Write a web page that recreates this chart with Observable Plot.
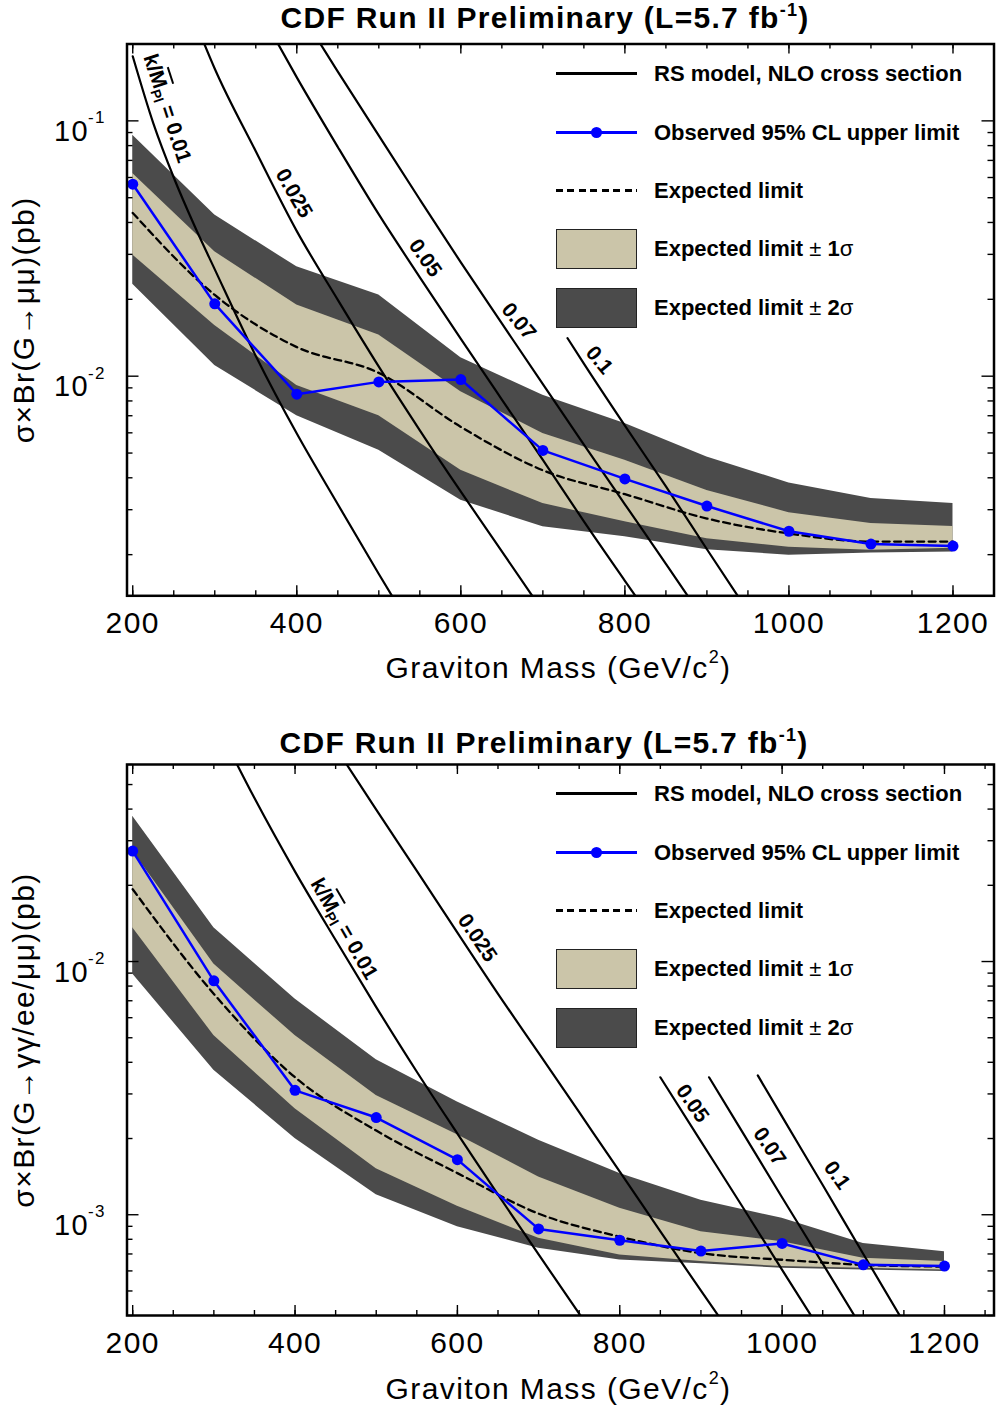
<!DOCTYPE html>
<html><head><meta charset="utf-8">
<script src="https://cdn.jsdelivr.net/npm/d3@7"></script>
<script src="https://cdn.jsdelivr.net/npm/@observablehq/plot@0.6"></script>
<style>
body{margin:0;background:#fff}
#fig{position:relative;width:996px;height:1412px;font-family:"Liberation Sans",Arial,Helvetica,sans-serif;color:#000;overflow:hidden;background:#fff}
.panel{position:absolute;left:0;width:996px}
.panel svg{position:absolute;left:0;top:0}
.title{position:absolute;white-space:nowrap;font-weight:bold;font-size:30px;line-height:30px;letter-spacing:1.3px;transform:translateX(-50%)}
.xtitle{position:absolute;white-space:nowrap;font-size:30px;line-height:30px;letter-spacing:1.4px;transform:translateX(-50%)}
.sup{position:relative;font-size:18px;line-height:0}
.legtxt{position:absolute;left:654px;font-weight:bold;font-size:22px;line-height:22px;white-space:nowrap}
.legtxt .n{font-weight:normal}
.legsym{position:absolute;left:556px;width:81px;box-sizing:border-box}
.clabel{position:absolute;font-weight:bold;font-size:21px;line-height:21px;white-space:nowrap;left:0;top:0}
.clabel .ov{text-decoration:overline}
.clabel sub{font-size:14px;line-height:0;vertical-align:-4px}
</style></head>
<body>
<div id="fig"></div>
<script>
// ---------------- data ----------------
const mass = [200, 300, 400, 500, 600, 700, 800, 900, 1000, 1100, 1200];

// G -> mu mu
const obsMuMu = [0.0565, 0.0192, 0.0085, 0.0095, 0.0097, 0.00512, 0.00396, 0.0031, 0.00247, 0.0022, 0.00216];
const expMuMu = [0.0436, 0.0208, 0.0130, 0.0103, 0.00633, 0.00428, 0.00345, 0.00277, 0.00242, 0.00225, 0.00225];
const hi1MuMu = [0.0622, 0.0307, 0.0190, 0.0145, 0.0087, 0.00597, 0.00469, 0.00357, 0.00292, 0.00265, 0.00258];
const lo1MuMu = [0.0298, 0.0158, 0.0092, 0.0070, 0.00428, 0.00317, 0.00269, 0.00231, 0.00214, 0.00208, 0.00212];
const hi2MuMu = [0.0879, 0.0428, 0.0268, 0.0208, 0.0118, 0.00843, 0.00653, 0.00483, 0.00382, 0.00332, 0.00317];
const lo2MuMu = [0.0229, 0.0110, 0.0070, 0.00513, 0.00327, 0.00257, 0.00235, 0.00209, 0.00199, 0.00203, 0.00205];

// G -> gamma gamma / ee / mu mu
const obsComb = [0.0273, 0.00839, 0.0031, 0.00242, 0.00165, 0.000879, 0.000793, 0.000719, 0.00077, 0.000634, 0.000627];
const expComb = [0.0193, 0.00745, 0.00349, 0.00215, 0.00146, 0.00101, 0.000819, 0.000705, 0.000664, 0.000634, 0.000624];
const hi1Comb = [0.0273, 0.00977, 0.0051, 0.00296, 0.00207, 0.00141, 0.00106, 0.000857, 0.000783, 0.000673, 0.000653];
const lo1Comb = [0.0136, 0.0051, 0.00262, 0.00152, 0.00108, 0.000807, 0.000694, 0.000653, 0.000624, 0.000615, 0.000605];
const hi2Comb = [0.0375, 0.0136, 0.00711, 0.00409, 0.00279, 0.00197, 0.001455, 0.00114, 0.000968, 0.00077, 0.000715];
const lo2Comb = [0.00892, 0.00372, 0.0020, 0.0012, 0.000897, 0.000738, 0.000663, 0.00064, 0.000615, 0.000605, 0.000597];

// RS model NLO cross sections [mass, sigma x Br] for k/MPl values
const kValues = ["0.01", "0.025", "0.05", "0.07", "0.1"];
const rsMuMu001 = [[200,0.179],[225,0.098],[250,0.060],[275,0.039],[300,0.0262],[350,0.0120],[400,0.00596],[450,0.00315],[500,0.00168],[550,0.00091]];
const rsMuMu0025 = [[275,0.25],[300,0.16],[350,0.076],[400,0.037],[450,0.0199],[500,0.0109],[550,0.00614],[600,0.00353],[650,0.00206],[700,0.0012]];
const rsMuMu005 = [[370,0.22],[400,0.148],[450,0.079],[500,0.043],[550,0.0244],[600,0.0140],[650,0.0081],[700,0.0047],[750,0.0027],[800,0.00158],[850,0.00093]];
const rsMuMu007 = [[420,0.222],[450,0.156],[500,0.0875],[550,0.0492],[600,0.0279],[650,0.0161],[700,0.0093],[750,0.0054],[800,0.00315],[850,0.00184],[900,0.00107]];
const rsMuMu01 = [[730,0.0141],[750,0.0112],[800,0.0064],[850,0.0037],[900,0.0021],[950,0.0012]];

const rsComb001 = [[300,0.0912],[350,0.0442],[400,0.02265],[450,0.01216],[500,0.00661],[550,0.00367],[600,0.00209],[650,0.0012],[700,0.000697],[750,0.000407],[800,0.00024]];
const rsComb0025 = [[450,0.07],[500,0.0398],[550,0.0228],[600,0.0130],[650,0.00745],[700,0.00436],[750,0.00254],[800,0.00148],[850,0.00086],[900,0.000501],[950,0.000295]];
const rsComb005 = [[850,0.00349],[900,0.00195],[950,0.00109],[1000,0.000606],[1050,0.000338]];
const rsComb007 = [[910,0.00349],[950,0.00215],[1000,0.00117],[1050,0.000641],[1100,0.00035]];
const rsComb01 = [[970,0.00355],[1000,0.00244],[1050,0.00131],[1100,0.0007],[1150,0.000375]];

// curve label anchors [mass, value]
const labelAtMuMu = [[243.5,0.1117],[398,0.052],[558,0.029],[672,0.0164],[770,0.01155]];
const labelAtComb = [[462,0.01345],[626,0.0124],[891,0.00275],[986,0.00186],[1069,0.00143]];

// ticks
const xTicks = [200, 400, 600, 800, 1000, 1200];
const xMinorTicks = [200,250,300,350,400,450,500,550,600,650,700,750,800,850,900,950,1000,1050,1100,1150,1200,1250];
const yTicksMuMu = [0.01, 0.1], yExpMuMu = ["-2", "-1"];
const yTicksComb = [0.001, 0.01], yExpComb = ["-3", "-2"];

const legendLabels = [
  "RS model, NLO cross section",
  "Observed 95% CL upper limit",
  "Expected limit",
  'Expected limit <span class="n">±</span> 1<span class="n">σ</span>',
  'Expected limit <span class="n">±</span> 2<span class="n">σ</span>'
];

// ---------------- drawing ----------------
const DARK = "#4b4b4b", TAN = "#cbc5a9", BLUE = "#0000ff";
const fig = document.getElementById("fig");

function makePanel(cfg) {
  const W = 996, ML = 126.5, MR = 2.5;
  const FH = cfg.height - cfg.marginTop - cfg.marginBottom;
  const FW = W - ML - MR;
  const rows = mass.map((m, i) => ({m, obs: cfg.obs[i], exp: cfg.exp[i], lo1: cfg.lo1[i], hi1: cfg.hi1[i], lo2: cfg.lo2[i], hi2: cfg.hi2[i]}));
  const yMinor = [];
  for (const dec of cfg.decades) for (let k = 2; k <= 9; k++) {
    const v = +(k * dec).toPrecision(3);
    if (v >= cfg.yDomain[0] && v <= cfg.yDomain[1]) yMinor.push(v);
  }
  const tk = {stroke: "black", strokeWidth: 1.4};
  const chart = Plot.plot({
    width: W, height: cfg.height,
    marginTop: cfg.marginTop, marginBottom: cfg.marginBottom, marginLeft: ML, marginRight: MR,
    style: {fontFamily: '"Liberation Sans", Arial, Helvetica, sans-serif', letterSpacing: "1.4px", overflow: "visible", background: "transparent"},
    x: {domain: cfg.xDomain, axis: null},
    y: {type: "log", domain: cfg.yDomain, axis: null},
    marks: [
      Plot.areaY(rows, {x: "m", y1: "lo2", y2: "hi2", fill: DARK}),
      Plot.areaY(rows, {x: "m", y1: "lo1", y2: "hi1", fill: TAN}),
      Plot.line(rows, {x: "m", y: "exp", stroke: "black", strokeWidth: 2.3, strokeDasharray: "7,4.5", curve: "monotone-x"}),
      ...cfg.curves.map(c => Plot.line(c, {x: d => d[0], y: d => d[1], stroke: "black", strokeWidth: 2.2, curve: "monotone-x", clip: true})),
      Plot.line(rows, {x: "m", y: "obs", stroke: BLUE, strokeWidth: 2.5}),
      Plot.dot(rows, {x: "m", y: "obs", r: 5.5, fill: BLUE}),
      Plot.tickX(xTicks, {x: d => d, ...tk, insetTop: FH - 10}),
      Plot.tickX(xTicks, {x: d => d, ...tk, insetBottom: FH - 10}),
      Plot.tickX(xMinorTicks, {x: d => d, ...tk, insetTop: FH - 5}),
      Plot.tickX(xMinorTicks, {x: d => d, ...tk, insetBottom: FH - 5}),
      Plot.tickY(cfg.yTicks, {y: d => d, ...tk, insetRight: FW - 12}),
      Plot.tickY(cfg.yTicks, {y: d => d, ...tk, insetLeft: FW - 12}),
      Plot.tickY(yMinor, {y: d => d, ...tk, insetRight: FW - 6}),
      Plot.tickY(yMinor, {y: d => d, ...tk, insetLeft: FW - 6}),
      Plot.frame({stroke: "black", strokeWidth: 2.5}),
      Plot.text(xTicks, {x: d => d, text: d => String(d), frameAnchor: "bottom", lineAnchor: "middle", textAnchor: "middle", dy: 27.5, fontSize: 30}),
      Plot.text(cfg.yTicks, {y: d => d, text: () => "10", frameAnchor: "left", lineAnchor: "middle", textAnchor: "end", dx: -38, dy: 11, fontSize: 29}),
      Plot.text(cfg.yTicks.map((v, i) => ({v, e: cfg.yExp[i]})), {y: "v", text: "e", frameAnchor: "left", lineAnchor: "middle", textAnchor: "start", dx: -39, dy: -3, fontSize: 17}),
      Plot.text([cfg.ytitle], {text: d => d, frameAnchor: "left", textAnchor: "middle", lineAnchor: "middle", dx: -103, rotate: -90, fontSize: 30})
    ]
  });

  const p = document.createElement("div");
  p.className = "panel";
  p.style.top = cfg.top + "px";
  p.style.height = cfg.height + "px";
  p.appendChild(chart);

  const t = document.createElement("div");
  t.className = "title";
  t.style.left = cfg.titleX + "px";
  t.style.top = (cfg.titleBaseline - 25.4) + "px";
  t.innerHTML = 'CDF Run II Preliminary (L=5.7 fb<span class="sup" style="top:-12px">-1</span>)';
  p.appendChild(t);

  const xt = document.createElement("div");
  xt.className = "xtitle";
  xt.style.left = "558.5px";
  xt.style.top = (cfg.xtitleBaseline - 25.4) + "px";
  xt.innerHTML = 'Graviton Mass (GeV/c<span class="sup" style="top:-15px">2</span>)';
  p.appendChild(xt);

  // legend
  const rowsY = [73.5, 132.5, 190.5, 249, 307.5];
  const addSym = (top, h, css) => {
    const d = document.createElement("div");
    d.className = "legsym";
    d.style.top = top + "px"; d.style.height = h + "px";
    Object.assign(d.style, css);
    p.appendChild(d);
  };
  addSym(rowsY[0] - 1.1, 2.2, {background: "black"});
  addSym(rowsY[1] - 1.25, 2.5, {background: BLUE});
  const dot = document.createElement("div");
  Object.assign(dot.style, {position: "absolute", left: (596.5 - 5.5) + "px", top: (rowsY[1] - 5.5) + "px", width: "11px", height: "11px", borderRadius: "50%", background: BLUE});
  p.appendChild(dot);
  addSym(rowsY[2] - 1.15, 2.3, {background: "repeating-linear-gradient(to right, #000 0 7px, transparent 7px 11.5px)"});
  addSym(rowsY[3] - 20, 40, {background: TAN, border: "1.5px solid #222"});
  addSym(rowsY[4] - 20, 40, {background: DARK, border: "1.5px solid #222"});
  legendLabels.forEach((lab, i) => {
    const d = document.createElement("div");
    d.className = "legtxt";
    d.style.top = (rowsY[i] - 11) + "px";
    d.innerHTML = lab;
    p.appendChild(d);
  });

  // curve labels positioned through the plot's scales
  const sx = chart.scale("x"), sy = chart.scale("y");
  cfg.labelAt.forEach(([m, v], i) => {
    const d = document.createElement("div");
    d.className = "clabel";
    d.innerHTML = i === 0 ? `k/<span class="ov">M</span><sub>Pl</sub> = ${kValues[0]}` : kValues[i];
    d.style.transform = `translate(${sx.apply(m)}px, ${sy.apply(v)}px) translate(-50%, -50%) rotate(${cfg.labelAngle[i]}deg)`;
    p.appendChild(d);
  });
  fig.appendChild(p);
}

makePanel({
  top: 0, height: 720, marginTop: 43.5, marginBottom: 124.7,
  xDomain: [193, 1250], yDomain: [0.00138, 0.2], decades: [0.001, 0.01, 0.1],
  yTicks: yTicksMuMu, yExp: yExpMuMu,
  obs: obsMuMu, exp: expMuMu, lo1: lo1MuMu, hi1: hi1MuMu, lo2: lo2MuMu, hi2: hi2MuMu,
  curves: [rsMuMu001, rsMuMu0025, rsMuMu005, rsMuMu007, rsMuMu01],
  labelAt: labelAtMuMu, labelAngle: [72, 60, 55, 50, 50],
  ytitle: "σ×Br(G→μμ)(pb)",
  titleX: 545, titleBaseline: 28.3, xtitleBaseline: 678.3
});

makePanel({
  top: 720, height: 692, marginTop: 44, marginBottom: 97,
  xDomain: [193, 1261], yDomain: [0.0004, 0.06], decades: [0.0001, 0.001, 0.01],
  yTicks: yTicksComb, yExp: yExpComb,
  obs: obsComb, exp: expComb, lo1: lo1Comb, hi1: hi1Comb, lo2: lo2Comb, hi2: hi2Comb,
  curves: [rsComb001, rsComb0025, rsComb005, rsComb007, rsComb01],
  labelAt: labelAtComb, labelAngle: [60, 56, 55, 56, 55],
  ytitle: "σ×Br(G→γγ/ee/μμ)(pb)",
  titleX: 544, titleBaseline: 33.3, xtitleBaseline: 679.3
});
</script>
</body></html>
